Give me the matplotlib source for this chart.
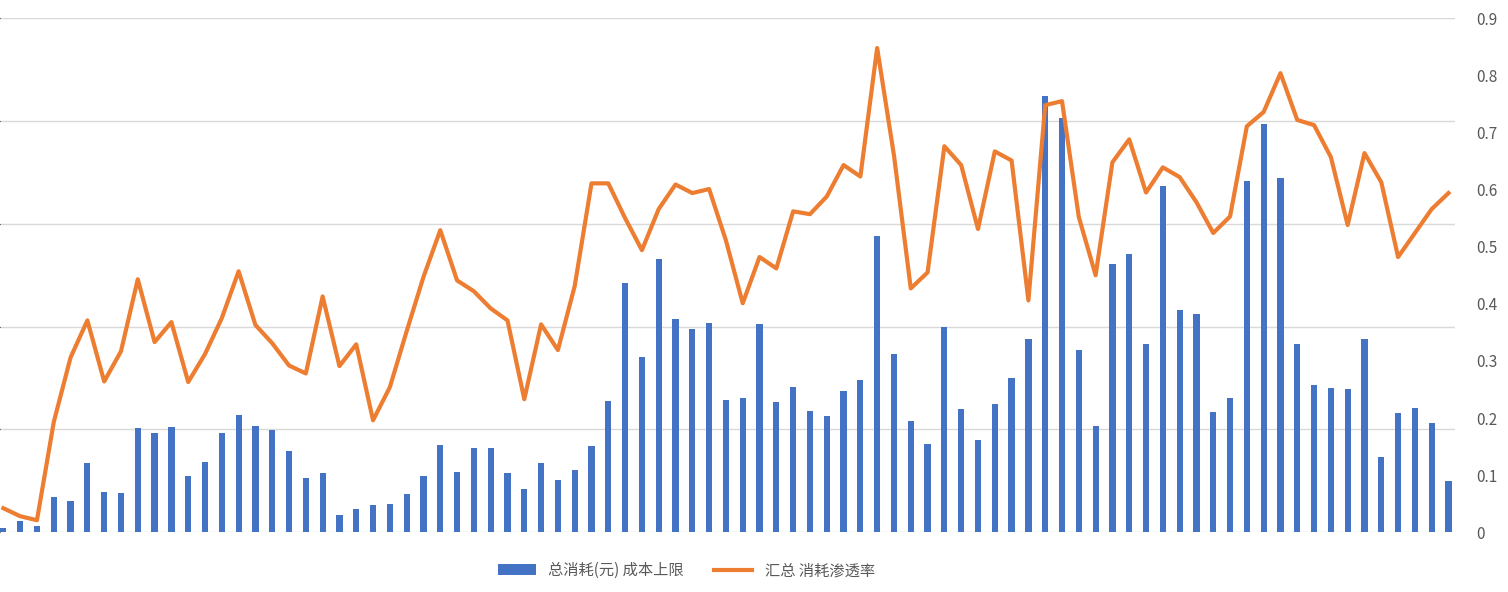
import numpy as np
import matplotlib.pyplot as plt

plt.rcParams['font.family'] = ['Noto Sans CJK SC', 'DejaVu Sans']

# bar heights (hidden left axis, 0-5 scale)
bar_px = [528, 521, 526, 497, 501, 463, 492, 493, 428, 433, 427, 476, 462, 433, 415, 426, 430, 451,
          478, 473, 515, 509, 505, 504, 494, 476, 445, 472, 448, 448, 473, 489, 463, 480, 470, 446,
          401, 283, 357, 259, 319, 329, 323, 400, 398, 324, 402, 387, 411, 416, 391, 380, 236, 354,
          421, 444, 327, 409, 440, 404, 378, 339, 96, 118, 350, 426, 264, 254, 344, 186, 310, 314,
          412, 398, 181, 124, 178, 344, 385, 388, 389, 339, 457, 413, 408, 423, 481]
cost_upper = [round((532 - p) / 102.8, 3) for p in bar_px]

line_px = [508, 516, 520, 422, 357, 320, 381, 351, 279, 342, 322, 382, 354, 318, 271, 325, 343, 365,
           373, 296, 366, 344, 420, 387, 331, 277, 230, 280, 291, 308, 320, 399, 324, 350, 286, 183,
           183, 218, 250, 209, 184, 193, 189, 240, 303, 257, 268, 211, 214, 196, 165, 176, 48, 155,
           288, 272, 146, 165, 229, 151, 160, 300, 105, 101, 217, 275, 162, 139, 192, 167, 177, 202,
           233, 216, 126, 112, 73, 120, 125, 157, 225, 153, 182, 257, 233, 209, 193]
penetration = [round((532 - p) / 571, 3) for p in line_px]

x = np.arange(len(cost_upper))

fig = plt.figure(figsize=(15.08, 5.92), dpi=100)
ax = fig.add_axes([0.0, 0.101, 0.965, 0.868])
ax.bar(x, cost_upper, width=0.37, color='#4472C4', label='总消耗(元) 成本上限', zorder=2)
ax.set_ylim(0, 5)
ax.set_yticks(np.arange(0, 6, 1))
ax.yaxis.grid(True, color='#d9d9d9', lw=1, zorder=0)
ax.set_yticklabels([])
ax.tick_params(left=False, bottom=False, labelbottom=False)
ax.set_xlim(-0.2, 86.4)
for s in ax.spines.values():
    s.set_visible(False)

ax2 = ax.twinx()
ax2.plot(x, penetration, color='#ED7D31', lw=3, label='汇总 消耗渗透率', zorder=3)
ax2.set_ylim(0, 0.9)
ax2.set_yticks(np.arange(0, 1.0, 0.1))
ax2.set_yticklabels(['0'] + [f'{v:.1f}' for v in np.arange(0.1, 1.0, 0.1)])
ax2.tick_params(right=False, labelsize=11, labelcolor='#595959', pad=12)
for s in ax2.spines.values():
    s.set_visible(False)

h1, l1 = ax.get_legend_handles_labels()
h2, l2 = ax2.get_legend_handles_labels()
fig.legend(h1 + h2, l1 + l2, loc='center', bbox_to_anchor=(0.455, 0.036), ncol=2,
           frameon=False, fontsize=11, labelcolor='#595959', handlelength=2.5)

fig.savefig('out.png', dpi=100)
